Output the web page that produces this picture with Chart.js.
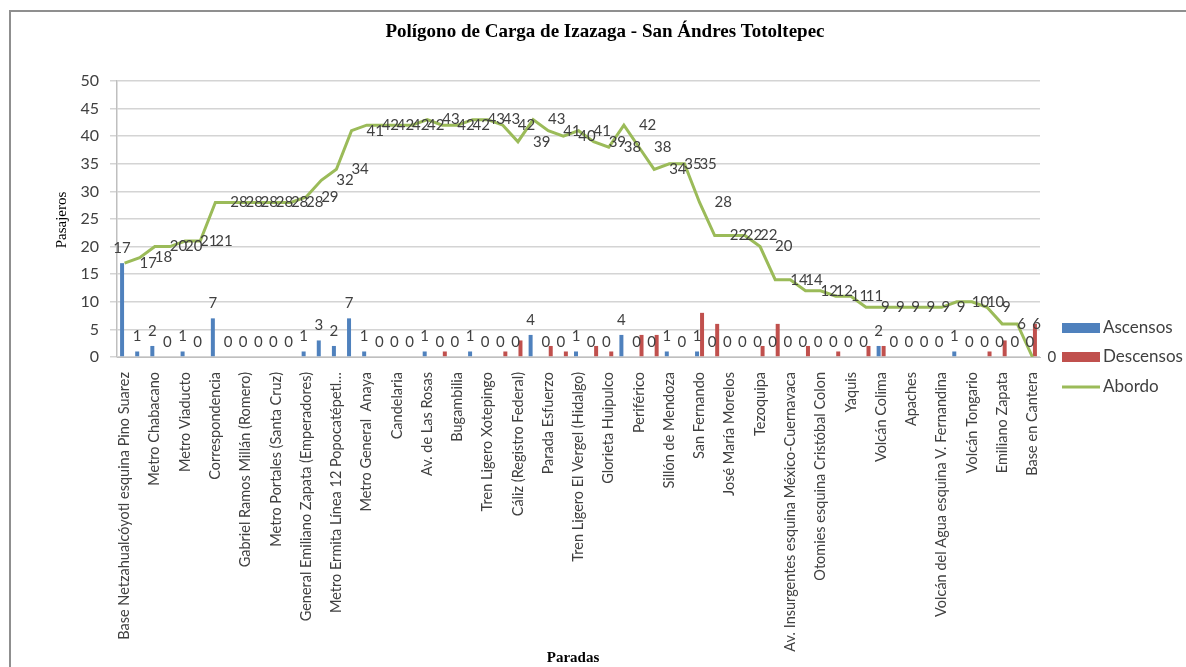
<!DOCTYPE html>
<html>
<head>
<meta charset="utf-8">
<script src="https://cdn.jsdelivr.net/npm/chart.js@4/dist/chart.umd.min.js"></script>
<style>
body { margin: 0; background: #fff; }
#wrap { position: relative; width: 1186px; height: 667px; overflow: hidden; }
#frame { position: absolute; left: 9px; top: 10px; width: 1300px; height: 800px; border: 2px solid #8f8f8f; box-sizing: border-box; }
canvas { position: absolute; left: 0; top: 0; }
</style>
</head>
<body>
<div id="wrap">
    <div id="frame"></div>
    <canvas id="carga" width="1186" height="667"></canvas>
</div>
<script>
// Paradas con nombre visible (el eje solo rotula una de cada dos)
const paradasVisibles = [
    "Base Netzahualcóyotl esquina Pino Suarez",
    "Metro Chabacano",
    "Metro Viaducto",
    "Correspondencia",
    "Gabriel Ramos Millán (Romero)",
    "Metro Portales (Santa Cruz)",
    "General Emiliano Zapata (Emperadores)",
    "Metro Ermita Línea 12 Popocatépetl…",
    "Metro General  Anaya",
    "Candelaria",
    "Av. de Las Rosas",
    "Bugambilia",
    "Tren Ligero Xotepingo",
    "Cáliz (Registro Federal)",
    "Parada Esfuerzo",
    "Tren Ligero El Vergel (Hidalgo)",
    "Glorieta Huipulco",
    "Periférico",
    "Sillón de Mendoza",
    "San Fernando",
    "José María Morelos",
    "Tezoquipa",
    "Av. Insurgentes esquina México-Cuernavaca",
    "Otomies esquina Cristóbal Colon",
    "Yaquis",
    "Volcán Colima",
    "Apaches",
    "Volcán del Agua esquina V. Fernandina",
    "Volcán Tongario",
    "Emiliano Zapata",
    "Base en Cantera"
];

const ascensos = [
    17, 1, 2, 0, 1, 0, 7, 0, 0, 0, 0, 0, 1, 3, 2, 7,
    1, 0, 0, 0, 1, 0, 0, 1, 0, 0, 0, 4, 0, 0, 1, 0,
    0, 4, 0, 0, 1, 0, 1, 0, 0, 0, 0, 0, 0, 0, 0, 0,
    0, 0, 2, 0, 0, 0, 0, 1, 0, 0, 0, 0, 0
];

const descensos = [
    0, 0, 0, 0, 0, 0, 0, 0, 0, 0, 0, 0, 0, 0, 0, 0,
    0, 0, 0, 0, 0, 1, 0, 0, 0, 1, 3, 0, 2, 1, 0, 2,
    1, 0, 4, 4, 0, 0, 8, 6, 0, 0, 2, 6, 0, 2, 0, 1,
    0, 2, 2, 0, 0, 0, 0, 0, 0, 1, 3, 0, 6
];

const abordo = [
    17, 18, 20, 20, 21, 21, 28, 28, 28, 28, 28, 28, 29, 32, 34, 41,
    42, 42, 42, 42, 43, 42, 42, 43, 43, 42, 39, 43, 41, 40, 41, 39,
    38, 42, 38, 34, 35, 35, 28, 22, 22, 22, 20, 14, 14, 12, 12, 11,
    11, 9, 9, 9, 9, 9, 9, 10, 10, 9, 6, 6, 0
];

const yMin = 0, yMax = 50, yPaso = 5;

// 61 paradas: las intermedias no llevan rotulo
const categorias = [];
paradasVisibles.forEach((nombre, k) => {
    categorias.push(nombre);
    if (k < paradasVisibles.length - 1) categorias.push("");
});

const AZUL = "#4F81BD", ROJO = "#C0504D", VERDE = "#9BBB59";
const GRIS_TEXTO = "#404040";

const rotulos = {
    id: "rotulos",
    afterDatasetsDraw(chart) {
        const ctx = chart.ctx;
        ctx.save();
        ctx.font = "15px Lato";
        ctx.fillStyle = GRIS_TEXTO;
        ctx.textBaseline = "middle";

        // valores de ascensos sobre cada barra
        ctx.textAlign = "center";
        chart.getDatasetMeta(0).data.forEach((barra, i) => {
            ctx.fillText(String(ascensos[i]), barra.x, barra.y - 15);
        });

        // valores de abordo a la derecha de cada punto
        ctx.textAlign = "left";
        chart.getDatasetMeta(2).data.forEach((punto, i) => {
            ctx.fillText(String(abordo[i]), punto.x + 15, punto.y);
        });
        ctx.restore();
    },
    afterDraw(chart) {
        const ctx = chart.ctx;
        ctx.save();
        ctx.fillStyle = "#000";
        ctx.textAlign = "center";
        ctx.textBaseline = "middle";

        ctx.font = "bold 19px 'Liberation Serif'";
        ctx.fillText("Polígono de Carga de Izazaga - San Ándres Totoltepec", 605, 32);

        ctx.font = "bold 15px 'Liberation Serif'";
        ctx.fillText("Paradas", 573, 658);

        ctx.font = "15px 'Liberation Serif'";
        ctx.translate(62, 220);
        ctx.rotate(-Math.PI / 2);
        ctx.fillText("Pasajeros", 0, 0);
        ctx.restore();

        // leyenda
        ctx.save();
        ctx.font = "17px Lato";
        ctx.textBaseline = "middle";
        ctx.textAlign = "left";
        ctx.fillStyle = AZUL;
        ctx.fillRect(1062, 323, 38, 10);
        ctx.fillStyle = ROJO;
        ctx.fillRect(1062, 352, 38, 10);
        ctx.strokeStyle = VERDE;
        ctx.lineWidth = 3;
        ctx.beginPath();
        ctx.moveTo(1062, 387);
        ctx.lineTo(1100, 387);
        ctx.stroke();
        ctx.fillStyle = GRIS_TEXTO;
        ctx.fillText("Ascensos", 1103, 328);
        ctx.fillText("Descensos", 1103, 357);
        ctx.fillText("Abordo", 1103, 387);
        ctx.restore();
    }
};

new Chart(document.getElementById("carga"), {
    type: "bar",
    data: {
        labels: categorias,
        datasets: [
            {
                label: "Ascensos",
                data: ascensos,
                backgroundColor: AZUL,
                categoryPercentage: 0.66,
                barPercentage: 0.8,
                order: 1
            },
            {
                label: "Descensos",
                data: descensos,
                backgroundColor: ROJO,
                categoryPercentage: 0.66,
                barPercentage: 0.8,
                order: 1
            },
            {
                type: "line",
                label: "Abordo",
                data: abordo,
                borderColor: VERDE,
                borderWidth: 3,
                pointRadius: 0,
                tension: 0,
                fill: false,
                order: 0
            }
        ]
    },
    options: {
        responsive: false,
        animation: false,
        devicePixelRatio: 1,
        layout: { padding: { left: 0, top: 81, right: 146, bottom: 0 } },
        plugins: {
            legend: { display: false },
            title: { display: false },
            tooltip: { enabled: false }
        },
        scales: {
            x: {
                grid: { display: false, drawTicks: false },
                border: { display: true, color: "#bfbfbf", width: 1 },
                ticks: {
                    autoSkip: false,
                    minRotation: 90,
                    maxRotation: 90,
                    padding: 15,
                    color: GRIS_TEXTO,
                    font: { family: "Lato", size: 14.5 }
                },
                afterFit: scale => { scale.height = 310; }
            },
            y: {
                min: yMin,
                max: yMax,
                ticks: {
                    stepSize: yPaso,
                    padding: 11,
                    color: GRIS_TEXTO,
                    font: { family: "Lato", size: 16 }
                },
                grid: { color: "#d4d4d4", lineWidth: 1.5, tickLength: 7 },
                border: { color: "#bfbfbf", width: 1.5 },
                afterFit: scale => { scale.width = 117; }
            }
        }
    },
    plugins: [rotulos]
});
</script>
</body>
</html>
